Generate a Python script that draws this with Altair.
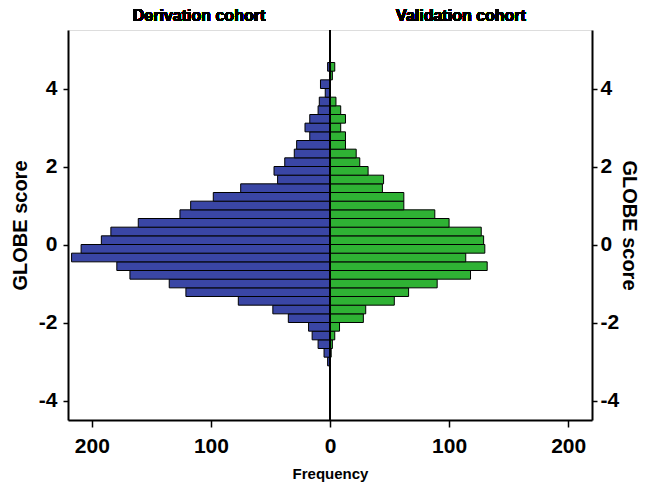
import altair as alt
import pandas as pd

# GLOBE score bins (lower edges), bin width 2/9
bin_start = [-3.1111, -2.8889, -2.6667, -2.4444, -2.2222, -2.0, -1.7778, -1.5556,
             -1.3333, -1.1111, -0.8889, -0.6667, -0.4444, -0.2222, 0.0, 0.2222,
             0.4444, 0.6667, 0.8889, 1.1111, 1.3333, 1.5556, 1.7778, 2.0, 2.2222,
             2.4444, 2.6667, 2.8889, 3.1111, 3.3333, 3.5556, 3.7778, 4.0, 4.2222, 4.4444]
bin_width = 0.2222

derivation = [2, 5, 10, 15, 18, 35, 48, 77, 121, 135, 168, 179, 217, 209, 192, 184,
              161, 126, 117, 98, 75, 44, 47, 38, 30, 28, 17, 21, 17, 10, 9, 4, 8, 0, 2]
validation = [0, 1, 2, 4, 8, 28, 30, 54, 66, 90, 118, 132, 114, 130, 129, 127,
              100, 88, 62, 62, 44, 45, 32, 25, 22, 13, 13, 9, 13, 9, 5, 0, 0, 2, 4]

cohorts = ["Derivation cohort", "Validation cohort"]
colors = ["#3a46a5", "#2fb234"]

rows = []
for s, d, v in zip(bin_start, derivation, validation):
    rows.append({"cohort": cohorts[0], "lo": s, "count": d, "signed": -d})
    rows.append({"cohort": cohorts[1], "lo": s, "count": v, "signed": v})
df = pd.DataFrame(rows)

W, H = 524, 390
FONT = "Liberation Sans"

xscale = alt.Scale(domain=[-220, 220], nice=False, zero=False)
yscale = alt.Scale(domain=[-4.5, 5.5], nice=False, zero=False)

axis_common = dict(
    labelFont=FONT, labelFontSize=21, labelFontWeight="bold", labelColor="black",
    titleFont=FONT, titleFontWeight="bold", titleColor="black",
    domainColor="black", domainWidth=2, tickColor="black", tickWidth=1.5,
    grid=False,
)

base = alt.Chart(df).transform_calculate(
    hi=f"datum.lo + {bin_width}", zero="0"
)

bars = base.mark_bar(stroke="black", strokeWidth=1).encode(
    x=alt.X("signed:Q", scale=xscale,
            axis=alt.Axis(values=[-200, -100, 0, 100, 200],
                          labelExpr="'' + abs(datum.value)",
                          title="Frequency", titleFontSize=15, titlePadding=10,
                          tickSize=7, labelPadding=8, **axis_common)),
    x2="zero:Q",
    y=alt.Y("lo:Q", scale=yscale,
            axis=alt.Axis(orient="left", values=[-4, -2, 0, 2, 4],
                          labelExpr="'' + datum.value",
                          title="GLOBE score", titleFontSize=20, titlePadding=8,
                          tickSize=5, labelPadding=6, **axis_common)),
    y2="hi:Q",
    color=alt.Color("cohort:N", scale=alt.Scale(domain=cohorts, range=colors), legend=None),
)

right_axis = base.mark_point(opacity=0).encode(
    x=alt.X("zero:Q", scale=xscale),
    y=alt.Y("lo:Q", scale=yscale,
            axis=alt.Axis(orient="right", values=[-4, -2, 0, 2, 4],
                          labelExpr="'' + datum.value",
                          title="GLOBE score", titleFontSize=20,
                          titleAngle=90, titleX=36, titleY=H / 2,
                          titleBaseline="middle", titleAlign="center",
                          tickSize=5, labelPadding=3, **axis_common)),
)

center = alt.Chart(df).mark_rule(color="black", strokeWidth=2).encode(
    x=alt.datum(0), y=alt.value(0), y2=alt.value(H)
)

title_left = alt.Chart(df).mark_text(
    font=FONT, fontSize=16, fontWeight="bold", color="black"
).encode(x=alt.datum(-110), y=alt.value(-14), text=alt.value(cohorts[0]))

title_right = alt.Chart(df).mark_text(
    font=FONT, fontSize=16, fontWeight="bold", color="black"
).encode(x=alt.datum(110), y=alt.value(-14), text=alt.value(cohorts[1]))

chart = alt.layer(bars, center, right_axis, title_left, title_right).resolve_axis(
    y="independent"
).properties(
    width=W, height=H,
    autosize=alt.AutoSizeParams(type="none"),
    padding={"left": 60, "top": 22, "right": 47, "bottom": 63},
).configure_view(stroke=None).configure(background="white")

chart.save("out.html", embed_options={"renderer": "svg", "actions": False})
